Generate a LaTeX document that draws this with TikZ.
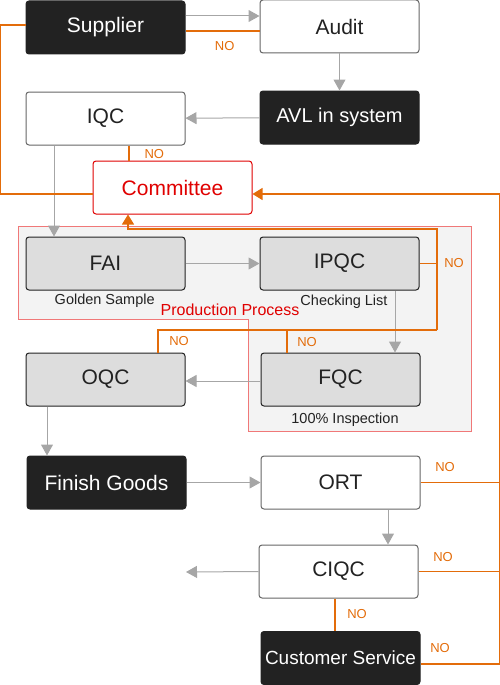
\documentclass[tikz,border=0pt]{standalone}
\usepackage{fontspec}
\setmainfont{Liberation Sans}
\usepackage{tikz}
\usetikzlibrary{arrows.meta}
\definecolor{inkdark}{HTML}{222222}
\definecolor{boxgrey}{HTML}{DDDDDD}
\definecolor{boxline}{HTML}{666666}
\definecolor{linegrey}{HTML}{A6A6A6}
\definecolor{noorange}{HTML}{E36C0A}
\definecolor{comred}{HTML}{E00000}
\definecolor{regionfill}{HTML}{F3F3F3}
\definecolor{regionline}{HTML}{F07878}
\tikzstyle{base} = [rectangle, rounded corners=3pt, minimum width=159pt, minimum height=53pt,
inner sep=0pt, line width=1pt, text centered, font=\fontsize{21}{25}\selectfont]
\tikzstyle{dark} = [base, fill=inkdark, draw=inkdark, text=white]
\tikzstyle{plain} = [base, fill=white, draw=boxline, text=inkdark]
\tikzstyle{process} = [base, fill=boxgrey, draw=inkdark, text=inkdark]
\tikzstyle{committee} = [base, fill=white, draw=comred, text=comred]
\tikzstyle{note} = [inner sep=0pt, text=inkdark, font=\fontsize{14.5}{17}\selectfont]
\tikzstyle{nolabel} = [inner sep=0pt, text=noorange, font=\fontsize{13}{15}\selectfont]
\tikzstyle{region} = [fill=regionfill, draw=regionline, line width=1pt]
\tikzstyle{arrow} = [draw=linegrey, line width=1pt, -{Triangle[length=11pt,width=12pt]}]
\tikzstyle{noline} = [draw=noorange, line width=1.2pt]
\tikzstyle{noarrow} = [noline, -{Triangle[length=10pt,width=12pt]}]
\begin{document}
\begin{tikzpicture}[x=1pt, y=-1pt]
                 \useasboundingbox (0,0) rectangle (500,685);
                 \draw [region] (18,226) -- (471,226) -- (471,431) -- (248,431)
                 -- (248,319) -- (18,319) -- cycle;
                 \node (sup) [dark] at (105.5,27.5) {Supplier};
                 \node (aud) [plain] at (339.5,26.5) {Audit};
                 \node (avl) [dark, font=\fontsize{20}{24}\selectfont] at (339.5,117.5) {AVL in system};
                 \node (iqc) [plain] at (105.5,118.5) {IQC};
                 \node (com) [committee] at (172.5,187.5) {Committee};
                 \node (fai) [process] at (105.5,263.5) {FAI};
                 \node (ipqc) [process] at (339.5,263.5) {IPQC};
                 \node (oqc) [process] at (105.5,379.5) {OQC};
                 \node (fqc) [process] at (340.5,379.5) {FQC};
                 \node (fg) [dark] at (106.5,482.5) {Finish Goods};
                 \node (ort) [plain] at (340.5,482.5) {ORT};
                 \node (ciqc) [plain] at (338.5,571.5) {CIQC};
                 \node (cs) [dark, font=\fontsize{19}{23}\selectfont] at (340.5,658) {Customer Service};
                 \node (golden) [note] at (104.7,300.7) {Golden Sample};
                 \node (check) [note] at (344,301.7) {Checking List};
                 \node (insp) [note] at (345,420) {100\% Inspection};
                 \node (prod) [note, text=comred, font=\fontsize{16}{19}\selectfont] at (230,310) {Production Process};
                 \node (noaud) [nolabel] at (224.7,46) {NO};
                 \node (noiqc) [nolabel] at (154.3,154) {NO};
                 \node (noipqc) [nolabel] at (454,263.3) {NO};
                 \node (nooqc) [nolabel] at (179,340.7) {NO};
                 \node (nofqc) [nolabel] at (307,342) {NO};
                 \node (noort) [nolabel] at (445,466.7) {NO};
                 \node (nociqc) [nolabel] at (443,556.7) {NO};
                 \node (nodown) [nolabel] at (357,613.7) {NO};
                 \node (nocs) [nolabel] at (440,647.7) {NO};
                 \coordinate (loopne) at (437,229);
                 \coordinate (loopse) at (437,330);
                 \coordinate (rail) at (499,0);
                 \coordinate (out) at (186,572);
                 \draw [arrow] ([yshift=11.5pt]sup.east) -- ([yshift=11.5pt]sup.east -| aud.west);
                 \draw [noline] ([yshift=-4.5pt]aud.west) -- ([yshift=-4.5pt]aud.west -| sup.east);
                 \draw [arrow] (aud) -- (avl);
                 \draw [arrow] (avl) -- (iqc);
                 \draw [arrow] ([xshift=-51.5pt]iqc.south) -- ([xshift=-51.5pt]iqc.south |- fai.north);
                 \draw [noline] ([xshift=23.5pt]iqc.south) -- ([xshift=23.5pt]iqc.south |- com.north);
                 \draw [noline] ([yshift=-6.5pt]com.west) -- ++(-92,0) |- ([yshift=2.5pt]sup.west);
                 \draw [arrow] (fai) -- (ipqc);
                 \draw [arrow] ([xshift=55.5pt]ipqc.south) -- ([xshift=55.5pt]ipqc.south |- fqc.north);
                 \draw [arrow] ([yshift=-1.5pt]fqc.west) -- ([yshift=-1.5pt]fqc.west -| oqc.east);
                 \draw [arrow] ([xshift=-58.5pt]oqc.south) -- ([xshift=-58.5pt]oqc.south |- fg.north);
                 \draw [arrow] (fg) -- (ort);
                 \draw [arrow] ([xshift=47.5pt]ort.south) -- ([xshift=47.5pt]ort.south |- ciqc.north);
                 \draw [arrow] (ciqc.west) -- (out);
                 \draw [noline] (ipqc.east) -- (ipqc.east -| loopne);
                 \draw [noarrow] (loopse) -- (loopne) -| ([xshift=-44.5pt]com.south);
                 \draw [noline] ([xshift=52.5pt]oqc.north) |- (loopse);
                 \draw [noline] ([xshift=-53.5pt]fqc.north) |- (loopse);
                 \draw [noline] (ort.east) -- (ort.east -| rail);
                 \draw [noline] (ciqc.east) -- (ciqc.east -| rail);
                 \draw [noline] ([xshift=-3.5pt]ciqc.south) -- ([xshift=-3.5pt]ciqc.south |- cs.north);
                 \draw [noarrow] ([yshift=-6pt]cs.east) -- ++(79,0) |- ([yshift=-6.5pt]com.east);
             \end{tikzpicture}
\end{document}
